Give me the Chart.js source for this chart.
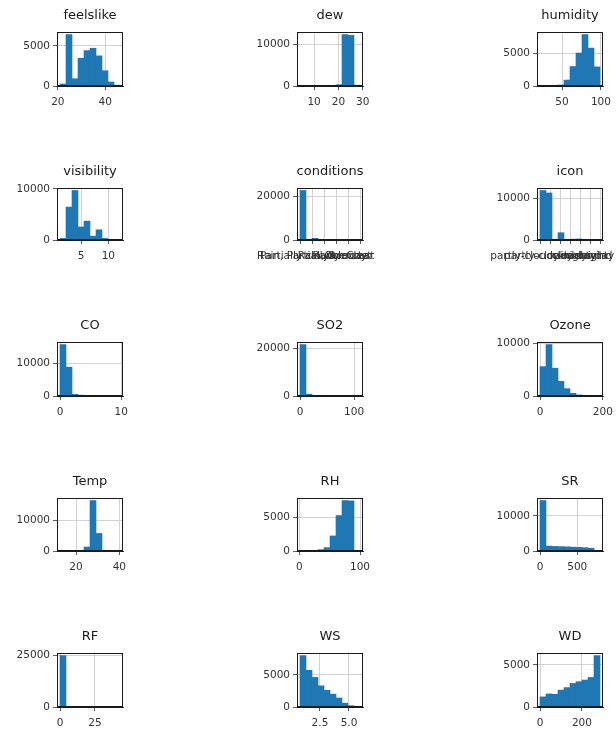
<!DOCTYPE html>
<html>
<head>
<meta charset="utf-8">
<script src="https://cdn.jsdelivr.net/npm/chart.js@4.4.1/dist/chart.umd.min.js"></script>
<style>
  html, body { margin: 0; padding: 0; background: #ffffff; }
  body { width: 616px; height: 732px; position: relative; overflow: hidden; }
  canvas { position: absolute; }
</style>
</head>
<body>
<script>
// ---- Histogram data: 10 equal-width bins per column, value range, tick values ----
const feelslikeCounts = [250, 6400, 900, 3450, 4400, 4700, 3750, 1900, 500, 100];
const feelslikeRange = [20.9, 46.2];
const feelslikeXTicks = [20, 40];
const feelslikeYTicks = [0, 5000];

const dewCounts = [5, 5, 10, 20, 40, 80, 300, 12300, 12100, 200];
const dewRange = [4.2, 28.9];
const dewXTicks = [10, 20, 30];
const dewYTicks = [0, 10000];

const humidityCounts = [10, 30, 60, 150, 900, 2950, 5000, 7800, 5750, 2900];
const humidityRange = [21.7, 98.8];
const humidityXTicks = [50, 100];
const humidityYTicks = [0, 5000];

const visibilityCounts = [300, 6450, 9700, 2550, 3700, 750, 2000, 300, 50, 20];
const visibilityRange = [1.16, 12.13];
const visibilityXTicks = [5, 10];
const visibilityYTicks = [0, 10000];

const conditionsCategories = ["Partially cloudy", "Rain, Partially cloudy", "Rain", "Rain, Overcast", "Overcast", "Clear"];
const conditionsCounts = [22900, 0, 800, 0, 250, 0, 100, 0, 200, 60];
const conditionsYTicks = [0, 20000];

const iconCategories = ["partly-cloudy-night", "partly-cloudy-day", "rain", "cloudy", "clear-night", "clear-day", "wind"];
const iconCounts = [11900, 11300, 0, 1750, 0, 200, 250, 0, 120, 150];
const iconYTicks = [0, 10000];

const coCounts = [15700, 8800, 500, 250, 120, 50, 25, 12, 6, 3];
const coRange = [0, 9.8];
const coXTicks = [0, 10];
const coYTicks = [0, 10000];

const so2Counts = [21600, 750, 200, 80, 40, 20, 10, 5, 3, 2];
const so2Range = [0, 111];
const so2XTicks = [0, 100];
const so2YTicks = [0, 20000];

const ozoneCounts = [5600, 9800, 5300, 2800, 1400, 500, 200, 80, 30, 10];
const ozoneRange = [0, 191];
const ozoneXTicks = [0, 200];
const ozoneYTicks = [0, 10000];

const tempCounts = [15, 25, 60, 150, 1300, 16400, 5700, 200, 30, 10];
const tempRange = [12.6, 40.3];
const tempXTicks = [20, 40];
const tempYTicks = [0, 10000];

const rhCounts = [20, 30, 80, 200, 500, 2250, 5300, 7550, 7500, 5];
const rhRange = [1.1, 100];
const rhXTicks = [0, 100];
const rhYTicks = [0, 5000];

const srCounts = [14350, 1400, 1300, 1250, 1200, 1100, 1050, 950, 800, 100];
const srRange = [0, 806];
const srXTicks = [0, 500];
const srYTicks = [0, 10000];

const rfCounts = [24800, 300, 80, 30, 10, 5, 3, 2, 1, 1];
const rfRange = [0, 43];
const rfXTicks = [0, 25];
const rfYTicks = [0, 25000];

const wsCounts = [8000, 5700, 4600, 3300, 2600, 2000, 1400, 600, 200, 50];
const wsRange = [0.78, 5.95];
const wsXTicks = [2.5, 5.0];
const wsYTicks = [0, 5000];

const wdCounts = [1200, 1550, 1500, 2000, 2300, 2800, 3000, 3200, 3500, 6100];
const wdRange = [0, 286];
const wdXTicks = [0, 200];
const wdYTicks = [0, 5000];

// ---- Grid of panels (3 columns x 5 rows) ----
const COL_LEFT = [57, 297, 537];
const ROW_TOP = [32, 188, 342, 498, 653];
const ROW_H = [54, 52, 54, 53, 54];
const BOX_W = 66;
const ML = 62, MR = 44, MT = 34, MB = 30;

const BAR = '#1f77b4';
const FONT = 'DejaVu Sans';

// frame around the plot area plus panel title
const framePlugin = {
  id: 'frameTitle',
  afterDraw(chart, args, opts) {
    const a = chart.chartArea;
    const ctx = chart.ctx;
    ctx.save();
    ctx.strokeStyle = '#1a1a1a';
    ctx.lineWidth = 1;
    ctx.strokeRect(Math.round(a.left) + 0.5, Math.round(a.top) + 0.5,
                   Math.round(a.right - a.left) - 1, Math.round(a.bottom - a.top) - 1);
    ctx.fillStyle = '#1a1a1a';
    ctx.font = '13px "' + FONT + '"';
    ctx.textAlign = 'center';
    ctx.textBaseline = 'middle';
    ctx.fillText(opts.text, (a.left + a.right) / 2, a.top - 16);
    ctx.restore();
  }
};

function histPanel(col, row, title, counts, range, xTicks, yTicks, fmtX) {
  const [lo, hi] = range;
  const w = (hi - lo) / counts.length;
  const span = hi - lo;
  const xmin = lo - 0.05 * span, xmax = hi + 0.05 * span;
  const ymax = 1.05 * Math.max(...counts);

  const boxH = ROW_H[row];
  const cv = document.createElement('canvas');
  const cw = ML + BOX_W + MR, ch = MT + boxH + MB;
  cv.width = cw; cv.height = ch;
  cv.style.width = cw + 'px'; cv.style.height = ch + 'px';
  cv.style.left = (COL_LEFT[col] - ML) + 'px';
  cv.style.top = (ROW_TOP[row] - MT) + 'px';
  document.body.appendChild(cv);

  const points = counts.map((c, i) => ({ x: lo + (i + 0.5) * w, y: c }));
  const tickFont = { family: FONT, size: 10.5 };

  new Chart(cv, {
    type: 'bar',
    data: {
      datasets: [{
        data: points,
        backgroundColor: BAR,
        borderWidth: 0,
        barPercentage: 1.0,
        categoryPercentage: 1.0
      }]
    },
    options: {
      responsive: false,
      animation: false,
      devicePixelRatio: 1,
      layout: { padding: { left: 0, right: MR, top: MT, bottom: 0 } },
      plugins: {
        legend: { display: false },
        tooltip: { enabled: false },
        frameTitle: { text: title }
      },
      scales: {
        x: {
          type: 'linear',
          min: xmin, max: xmax,
          offset: false,
          afterFit(s) { s.height = MB; },
          afterBuildTicks(s) { s.ticks = xTicks.map(v => ({ value: v })); },
          grid: { color: '#c8c8c8', lineWidth: 0.8, offset: false, tickColor: '#333', tickLength: 4 },
          border: { display: true, color: '#1a1a1a', width: 1 },
          ticks: {
            autoSkip: false, maxRotation: 0, minRotation: 0, padding: 6,
            color: '#333', font: tickFont,
            callback: v => fmtX(v)
          }
        },
        y: {
          min: 0, max: ymax,
          afterFit(s) { s.width = ML; },
          afterBuildTicks(s) { s.ticks = yTicks.map(v => ({ value: v })); },
          grid: { color: '#c8c8c8', lineWidth: 0.8, tickColor: '#333', tickLength: 4 },
          border: { display: true, color: '#1a1a1a', width: 1 },
          ticks: { padding: 3, color: '#333', font: tickFont, callback: v => String(v) }
        }
      }
    },
    plugins: [framePlugin]
  });
}

const plain = v => String(v);
const oneDec = v => v.toFixed(1);
const catLabel = cats => v => cats[Math.round(v)];
const catTicks = cats => cats.map((c, i) => i);

histPanel(0, 0, 'feelslike', feelslikeCounts, feelslikeRange, feelslikeXTicks, feelslikeYTicks, plain);
histPanel(1, 0, 'dew', dewCounts, dewRange, dewXTicks, dewYTicks, plain);
histPanel(2, 0, 'humidity', humidityCounts, humidityRange, humidityXTicks, humidityYTicks, plain);

histPanel(0, 1, 'visibility', visibilityCounts, visibilityRange, visibilityXTicks, visibilityYTicks, plain);
histPanel(1, 1, 'conditions', conditionsCounts, [0, conditionsCategories.length - 1],
          catTicks(conditionsCategories), conditionsYTicks, catLabel(conditionsCategories));
histPanel(2, 1, 'icon', iconCounts, [0, iconCategories.length - 1],
          catTicks(iconCategories), iconYTicks, catLabel(iconCategories));

histPanel(0, 2, 'CO', coCounts, coRange, coXTicks, coYTicks, plain);
histPanel(1, 2, 'SO2', so2Counts, so2Range, so2XTicks, so2YTicks, plain);
histPanel(2, 2, 'Ozone', ozoneCounts, ozoneRange, ozoneXTicks, ozoneYTicks, plain);

histPanel(0, 3, 'Temp', tempCounts, tempRange, tempXTicks, tempYTicks, plain);
histPanel(1, 3, 'RH', rhCounts, rhRange, rhXTicks, rhYTicks, plain);
histPanel(2, 3, 'SR', srCounts, srRange, srXTicks, srYTicks, plain);

histPanel(0, 4, 'RF', rfCounts, rfRange, rfXTicks, rfYTicks, plain);
histPanel(1, 4, 'WS', wsCounts, wsRange, wsXTicks, wsYTicks, oneDec);
histPanel(2, 4, 'WD', wdCounts, wdRange, wdXTicks, wdYTicks, plain);
</script>
</body>
</html>
